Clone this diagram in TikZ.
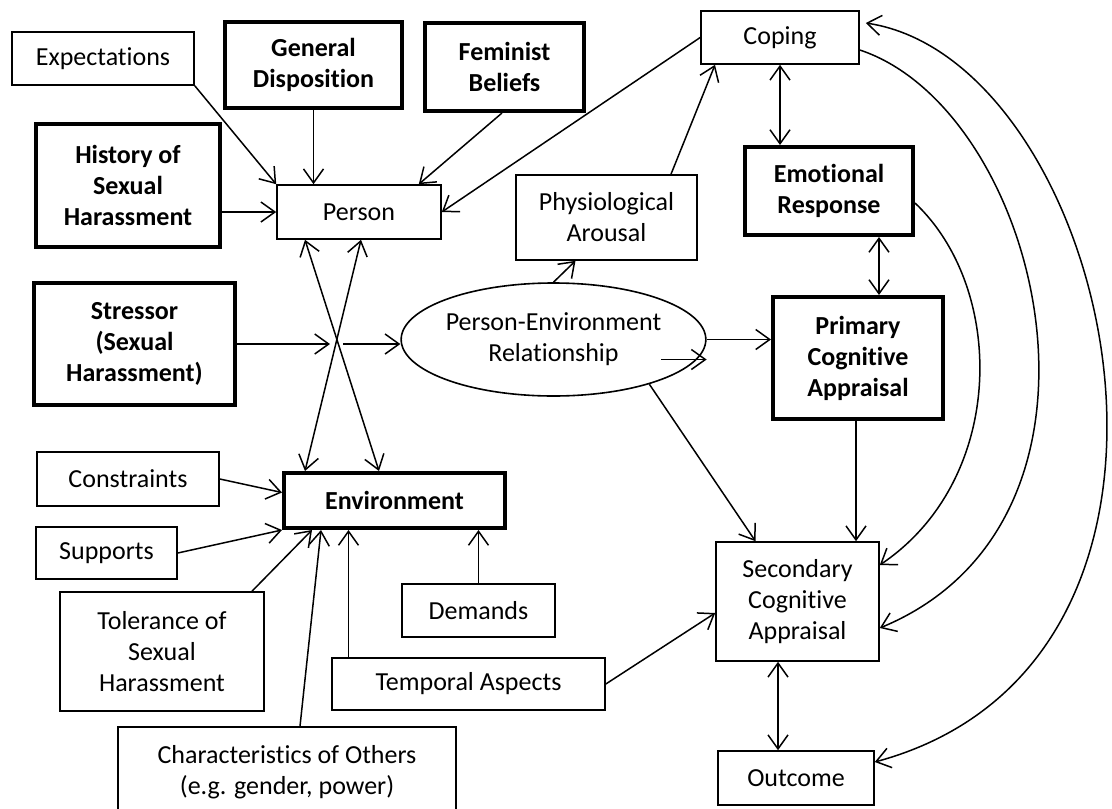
\documentclass[tikz,border=0pt]{standalone}
\usepackage{fontspec}
\setmainfont{Carlito}[Ligatures=NoCommon]
\usetikzlibrary{arrows.meta, shapes.geometric}

\begin{document}
\begin{tikzpicture}[x=1pt, y=-1pt, ->, >={Straight Barb[length=14pt, width=20pt]}, line width=1.5pt,
		font=\fontsize{26}{31}\selectfont,
		box/.style={draw, rectangle, align=center, inner sep=0pt, line width=1.6pt},
		bbox/.style={box, line width=4pt, font=\fontsize{26}{31}\selectfont\bfseries}]
		\useasboundingbox (0, 0) rectangle (1112, 809);
		
		\node[box, minimum width=182pt, minimum height=53pt] (exp) at (103, 58.5) {Expectations};
		\node[bbox, minimum width=177pt, minimum height=86pt] (gen) at (313.5, 65) {General\\Disposition};
		\node[bbox, minimum width=159pt, minimum height=88pt] (fem) at (504.5, 67) {Feminist\\Beliefs};
		\node[bbox, minimum width=184pt, minimum height=123pt] (his) at (128, 185.5) {History of\\Sexual\\Harassment};
		\node[box, minimum width=164pt, minimum height=54pt] (per) at (359, 212) {Person};
		
		\node[box, minimum width=158pt, minimum height=53pt] (cop) at (780, 37.5) {Coping};
		\node[box, minimum width=181pt, minimum height=85pt] (phy) at (606.5, 217.5) {Physiological\\Arousal};
		\node[bbox, minimum width=168pt, minimum height=88pt] (emo) at (829, 191) {Emotional\\Response};
		
		\node[bbox, minimum width=201pt, minimum height=122pt] (str) at (134.5, 344) {Stressor\\(Sexual\\Harassment)};
		\node[draw, ellipse, inner sep=0pt, line width=1.6pt, minimum width=291pt, minimum height=113pt] (rel) at (553.5, 339.5)
			{\raisebox{-10pt}{\begin{tabular}{@{}c@{}}Person-Environment\\Relationship\end{tabular}}};
		\node[bbox, minimum width=170pt, minimum height=122pt] (pri) at (858, 358) {Primary\\Cognitive\\Appraisal};
		
		\node[box, minimum width=182pt, minimum height=54pt] (con) at (128, 479) {Constraints};
		\node[bbox, minimum width=221pt, minimum height=55pt] (env) at (394.5, 500.5) {Environment};
		\node[box, minimum width=141pt, minimum height=52pt] (sup) at (106.5, 553) {Supports};
		\node[box, minimum width=204pt, minimum height=119pt] (tol) at (162, 651.5) {Tolerance of\\Sexual\\Harassment};
		\node[box, minimum width=153pt, minimum height=53pt] (dem) at (478.5, 610.5) {Demands};
		\node[box, minimum width=273pt, minimum height=52pt] (tem) at (468.5, 684) {Temporal Aspects};
		\node[box, minimum width=338pt, minimum height=90pt] (cha) at (287, 772) {Characteristics of Others\\(e.g. gender, power)};
		
		\node[box, minimum width=163pt, minimum height=119pt] (sec) at (797.5, 601.5) {Secondary\\Cognitive\\Appraisal};
		\node[box, minimum width=156pt, minimum height=54pt] (out) at (796, 778) {Outcome};
		
		\coordinate (x) at (337, 344);
		\coordinate (s) at (661, 359.5);
		
		\path (exp.south east) edge (per.north west)
			(gen.south) edge (gen.south |- per.north)
			([xshift=-2.5pt]fem.south) edge ([xshift=-23pt]per.north east)
			(cop.west) edge (per.east)
			(his.east |- per) edge (per)
			([xshift=-54pt]per.south) edge[<->] ([xshift=-15.5pt]env.north)
			([xshift=2pt]per.south) edge[<->] ([xshift=-89.5pt]env.north)
			(str.east) edge[shorten >=7pt] (x)
			(x) edge[shorten <=6pt] (x -| rel.west)
			(rel.north) edge ([xshift=-31pt]phy.south)
			([xshift=64.5pt]phy.north) edge ([xshift=-65pt]cop.south)
			(cop.south) edge[<->] (cop.south |- emo.north)
			([xshift=50pt]emo.south) edge[<->] ([xshift=21pt]pri.north)
			(rel.east) edge (rel.east -| pri.west)
			(s) edge ([yshift=-20pt]rel.east)
			(rel.-25) edge ([xshift=-42pt]sec.north)
			([xshift=-2pt]pri.south) edge ([xshift=58.5pt]sec.north)
			(con.east) edge ([yshift=8pt]env.west)
			(sup.east) edge (env.south west)
			([xshift=90pt]tol.north) edge ([xshift=30pt]env.south west)
			([xshift=13pt]cha.north) edge ([xshift=39pt]env.south west)
			([xshift=-120pt]tem.north) edge ([xshift=-46pt]env.south)
			(dem.north) edge (dem.north |- env.south)
			(tem.east) edge ([yshift=-11.5pt]sec.west)
			([xshift=-19.5pt]sec.south) edge[<->] ([xshift=-18pt]out.north);
		
		\draw ([yshift=-12pt]emo.east) .. controls +(92, 87) and +(126, -85) .. ([yshift=36.5pt]sec.east);
		\draw ([yshift=-12.5pt]cop.east) .. controls +(181, 60) and +(261, -108) .. ([yshift=-26.5pt]sec.east);
		\draw[<->] ([xshift=6pt, yshift=14.5pt]cop.east) .. controls +(245, 37) and +(376, -102) .. ([yshift=16pt]out.east);
	\end{tikzpicture}
\end{document}
